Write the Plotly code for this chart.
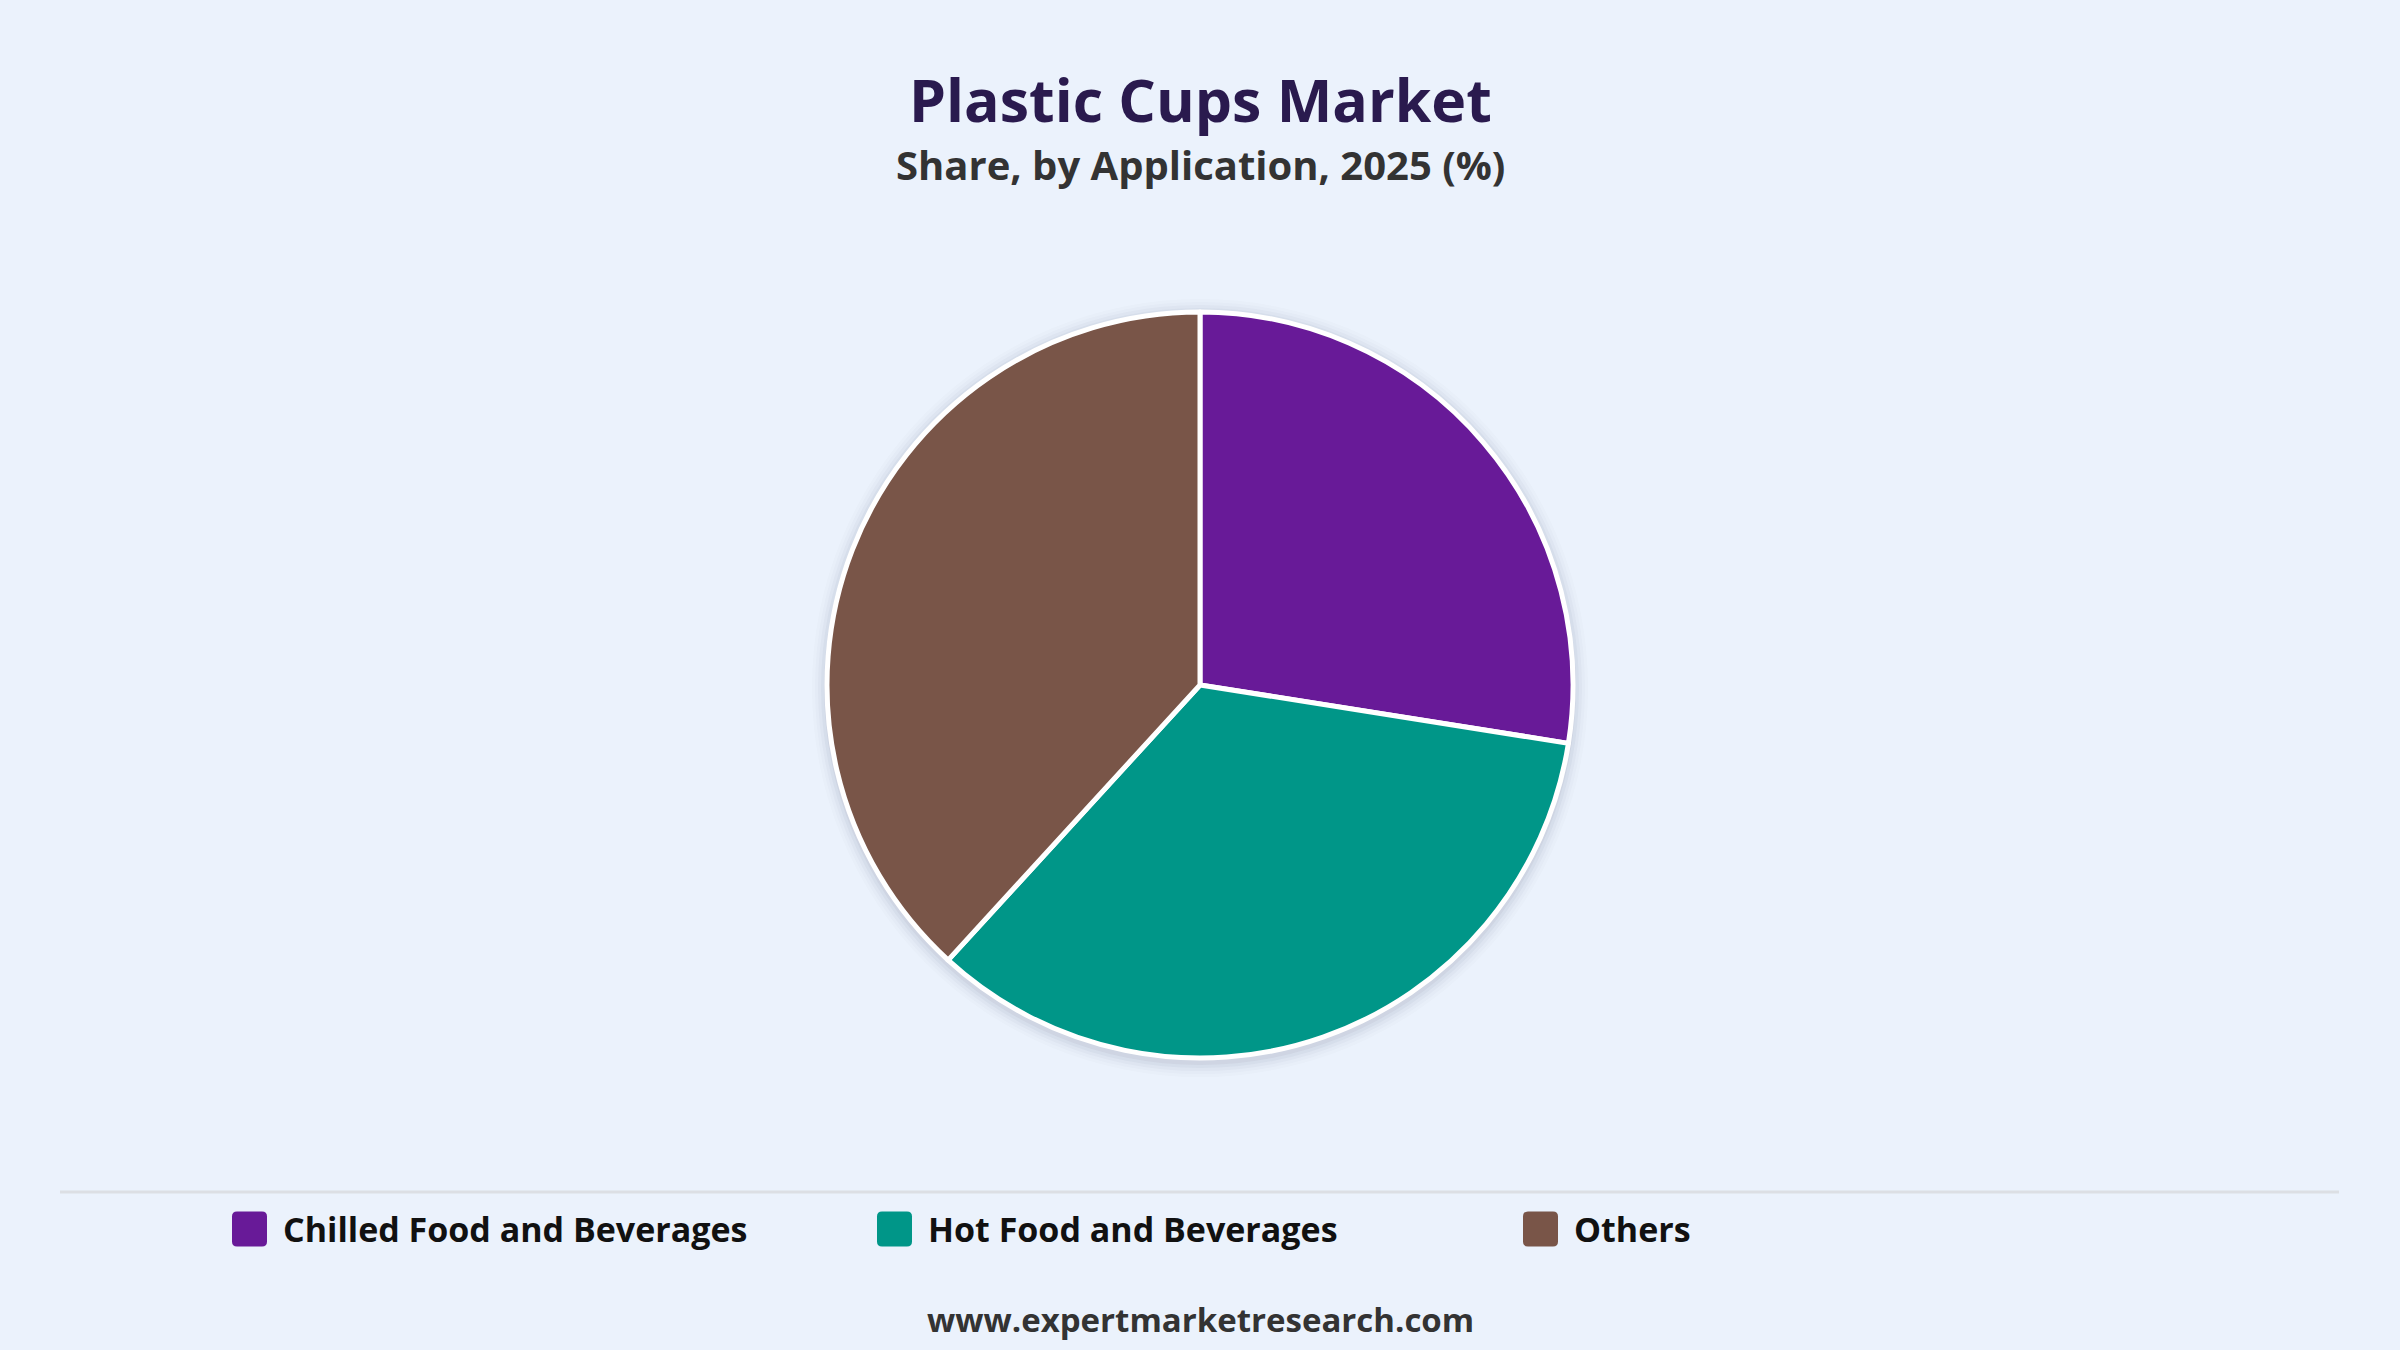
import plotly.graph_objects as go

# data
categories = ["Chilled Food and Beverages", "Hot Food and Beverages", "Others"]
shares = [27.5, 34.3, 38.2]
colors = ["#681A98", "#009688", "#795548"]

title = "Plastic Cups Market"
subtitle = "Share, by Application, 2025 (%)"
source = "www.expertmarketresearch.com"

W, H = 2400, 1350
BG = "#EBF2FC"
FONT = "Open Sans"

# pie geometry in pixels
cx, cy, r = 1200, 685, 373


def px_x(x):
    return x / W


def px_y(y):
    return 1 - y / H


fig = go.Figure()

fig.add_trace(go.Pie(
    labels=categories,
    values=shares,
    sort=False,
    direction="clockwise",
    rotation=0,
    marker=dict(colors=colors, line=dict(color="white", width=5)),
    textinfo="none",
    hovertemplate="%{label}: %{value}%<extra></extra>",
    showlegend=False,
    domain=dict(x=[0, 1], y=[px_y(cy + r), px_y(cy - r)]),
))

shapes = []
# soft shadow around the pie
for i, a in enumerate([0.05, 0.04, 0.03, 0.02, 0.015]):
    rr = r + 3 + i * 3
    shapes.append(dict(
        type="circle", xref="paper", yref="paper", layer="below",
        x0=px_x(cx - rr), x1=px_x(cx + rr),
        y0=px_y(cy + rr + 4), y1=px_y(cy - rr + 2),
        fillcolor=f"rgba(60,70,90,{a})", line=dict(width=0),
    ))

# separator line above the legend
shapes.append(dict(
    type="line", xref="paper", yref="paper",
    x0=px_x(60), x1=px_x(2339), y0=px_y(1192), y1=px_y(1192),
    line=dict(color="#DCDFE4", width=3),
))

annotations = [
    dict(text=f"<b>{title}</b>", x=0.5, y=px_y(99), xref="paper", yref="paper",
         showarrow=False, font=dict(family=FONT, size=59, color="#2A1A4E"),
         xanchor="center", yanchor="middle"),
    dict(text=f"<b>{subtitle}</b>", x=0.5, y=px_y(164), xref="paper", yref="paper",
         showarrow=False, font=dict(family=FONT, size=40, color="#333333"),
         xanchor="center", yanchor="middle"),
    dict(text=f"<b>{source}</b>", x=0.5, y=px_y(1319), xref="paper", yref="paper",
         showarrow=False, font=dict(family=FONT, size=33, color="#333333"),
         xanchor="center", yanchor="middle"),
]

# legend built by hand so the swatches can be large rounded squares
legend_x = [232, 877, 1523]
sw, ly = 35, 1229
for name, col, lx in zip(categories, colors, legend_x):
    x0, x1 = lx, lx + sw
    y0, y1 = ly - sw / 2, ly + sw / 2
    rad = 5
    path = (f"M {px_x(x0 + rad)} {px_y(y0)} L {px_x(x1 - rad)} {px_y(y0)} "
            f"Q {px_x(x1)} {px_y(y0)} {px_x(x1)} {px_y(y0 + rad)} "
            f"L {px_x(x1)} {px_y(y1 - rad)} Q {px_x(x1)} {px_y(y1)} {px_x(x1 - rad)} {px_y(y1)} "
            f"L {px_x(x0 + rad)} {px_y(y1)} Q {px_x(x0)} {px_y(y1)} {px_x(x0)} {px_y(y1 - rad)} "
            f"L {px_x(x0)} {px_y(y0 + rad)} Q {px_x(x0)} {px_y(y0)} {px_x(x0 + rad)} {px_y(y0)} Z")
    shapes.append(dict(type="path", path=path, xref="paper", yref="paper",
                       fillcolor=col, line=dict(width=0)))
    annotations.append(dict(
        text=f"<b>{name}</b>", x=px_x(lx + sw + 14), y=px_y(ly),
        xref="paper", yref="paper", showarrow=False,
        font=dict(family=FONT, size=34, color="#111111"),
        xanchor="left", yanchor="middle",
    ))

fig.update_layout(
    width=W, height=H,
    margin=dict(l=0, r=0, t=0, b=0),
    paper_bgcolor=BG, plot_bgcolor=BG,
    shapes=shapes, annotations=annotations,
    font=dict(family=FONT),
)

# drop the page's default body margin so the figure sits flush in the window
fig.write_html("out.html", config={"displayModeBar": False},
               post_script="document.body.style.margin='0';")
